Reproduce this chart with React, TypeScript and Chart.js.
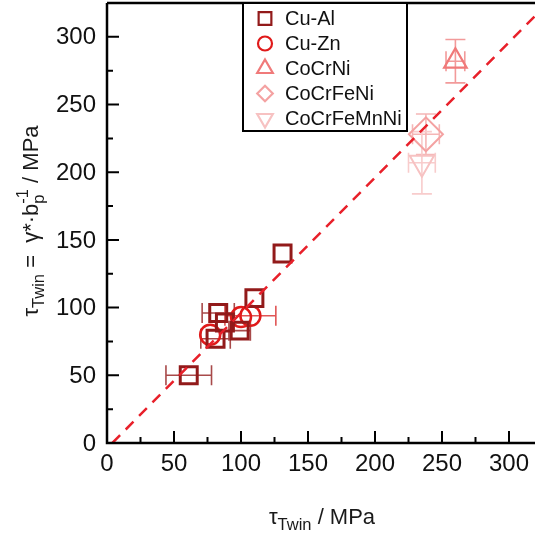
import React, { useEffect, useRef } from "react";
import { Chart, registerables } from "chart.js";

Chart.register(...registerables);

// ---- data ----
const seriesNames = ["Cu-Al", "Cu-Zn", "CoCrNi", "CoCrFeNi", "CoCrFeMnNi"];

const cuAlX = [61, 83, 88, 81, 99, 110, 131];
const cuAlY = [50, 96, 89, 77, 83, 107, 140];
const cuAlXErr = [17, 12, 0, 11, 8, 0, 0];
const cuAlYErr = [0, 0, 0, 0, 0, 0, 0];

const cuZnX = [77, 100, 107];
const cuZnY = [80, 93, 94];
const cuZnXErr = [0, 0, 19];
const cuZnYErr = [0, 0, 0];

const coCrNiX = [260];
const coCrNiY = [282];
const coCrNiXErr = [7];
const coCrNiYErr = [16];

const coCrFeNiX = [238];
const coCrFeNiY = [228];
const coCrFeNiXErr = [10];
const coCrFeNiYErr = [15];

const coCrFeMnNiX = [235];
const coCrFeMnNiY = [207];
const coCrFeMnNiXErr = [10];
const coCrFeMnNiYErr = [23];

const refLineX = [4, 335];
const refLineY = [0, 331];

const axisMin = 0;
const axisMax = 325;
const tickLabels = [0, 50, 100, 150, 200, 250, 300];

// ---- styles ----
const colors = ["#921a1a", "#e01a1a", "#f07a7a", "#f4a2a2", "#f7c2c2"];
const errColors = ["#a84a4a", "#e05555", "#f29a9a", "#f5b6b6", "#f8cccc"];
const styles = ["rect", "circle", "triangle", "rectRot", "triangle"];
const rotations = [0, 0, 0, 0, 180];
const radii = [12, 10, 13, 17, 14];
const widths = [3, 2.5, 2.2, 2, 2];

const FONT = "'Liberation Sans', Arial, sans-serif";

const toPts = (xs: number[], ys: number[]) => xs.map((x, i) => ({ x, y: ys[i] }));

const allSeries = [
  { x: cuAlX, y: cuAlY, xe: cuAlXErr, ye: cuAlYErr },
  { x: cuZnX, y: cuZnY, xe: cuZnXErr, ye: cuZnYErr },
  { x: coCrNiX, y: coCrNiY, xe: coCrNiXErr, ye: coCrNiYErr },
  { x: coCrFeNiX, y: coCrFeNiY, xe: coCrFeNiXErr, ye: coCrFeNiYErr },
  { x: coCrFeMnNiX, y: coCrFeMnNiY, xe: coCrFeMnNiXErr, ye: coCrFeMnNiYErr },
];

type Seg = { t: string; size: number; dy: number; stackWith?: Seg };

function richWidth(ctx: CanvasRenderingContext2D, segs: Seg[]) {
  let w = 0;
  for (const s of segs) {
    ctx.font = `${s.size}px ${FONT}`;
    let sw = ctx.measureText(s.t).width;
    if (s.stackWith) {
      ctx.font = `${s.stackWith.size}px ${FONT}`;
      sw = Math.max(sw, ctx.measureText(s.stackWith.t).width);
    }
    w += sw;
  }
  return w;
}

function drawRich(ctx: CanvasRenderingContext2D, segs: Seg[], cx: number, baseY: number) {
  const total = richWidth(ctx, segs);
  let x = cx - total / 2;
  ctx.textBaseline = "alphabetic";
  ctx.textAlign = "left";
  ctx.fillStyle = "#1a1a1a";
  for (const s of segs) {
    ctx.font = `${s.size}px ${FONT}`;
    let sw = ctx.measureText(s.t).width;
    ctx.fillText(s.t, x, baseY + s.dy);
    if (s.stackWith) {
      ctx.font = `${s.stackWith.size}px ${FONT}`;
      ctx.fillText(s.stackWith.t, x, baseY + s.stackWith.dy);
      sw = Math.max(sw, ctx.measureText(s.stackWith.t).width);
    }
    x += sw;
  }
}

function drawMarker(ctx: CanvasRenderingContext2D, style: string, rot: number, x: number, y: number, r: number) {
  ctx.beginPath();
  if (style === "rect") {
    const s = r * Math.SQRT1_2;
    ctx.rect(x - s, y - s, 2 * s, 2 * s);
  } else if (style === "circle") {
    ctx.arc(x, y, r, 0, Math.PI * 2);
  } else if (style === "rectRot") {
    const s = r * Math.SQRT1_2;
    ctx.moveTo(x - s, y);
    ctx.lineTo(x, y - s);
    ctx.lineTo(x + s, y);
    ctx.lineTo(x, y + s);
    ctx.closePath();
  } else {
    let a = (rot * Math.PI) / 180;
    ctx.moveTo(x + Math.sin(a) * r, y - Math.cos(a) * r);
    a += (2 * Math.PI) / 3;
    ctx.lineTo(x + Math.sin(a) * r, y - Math.cos(a) * r);
    a += (2 * Math.PI) / 3;
    ctx.lineTo(x + Math.sin(a) * r, y - Math.cos(a) * r);
    ctx.closePath();
  }
  ctx.stroke();
}

const framePlugin = {
  id: "frame",
  beforeDatasetsDraw(chart: any) {
    const ctx = chart.ctx as CanvasRenderingContext2D;
    const xs = chart.scales.x;
    const ys = chart.scales.y;
    const cap = 10;
    ctx.save();
    allSeries.forEach((s, si) => {
      ctx.strokeStyle = errColors[si];
      ctx.lineWidth = 1.6;
      s.x.forEach((xv, i) => {
        const px = xs.getPixelForValue(xv);
        const py = ys.getPixelForValue(s.y[i]);
        if (s.xe[i] > 0) {
          const l = xs.getPixelForValue(xv - s.xe[i]);
          const r = xs.getPixelForValue(xv + s.xe[i]);
          ctx.beginPath();
          ctx.moveTo(l, py);
          ctx.lineTo(r, py);
          ctx.moveTo(l, py - cap);
          ctx.lineTo(l, py + cap);
          ctx.moveTo(r, py - cap);
          ctx.lineTo(r, py + cap);
          ctx.stroke();
        }
        if (s.ye[i] > 0) {
          const t = ys.getPixelForValue(s.y[i] + s.ye[i]);
          const b = ys.getPixelForValue(s.y[i] - s.ye[i]);
          ctx.beginPath();
          ctx.moveTo(px, t);
          ctx.lineTo(px, b);
          ctx.moveTo(px - cap, t);
          ctx.lineTo(px + cap, t);
          ctx.moveTo(px - cap, b);
          ctx.lineTo(px + cap, b);
          ctx.stroke();
        }
      });
    });
    ctx.restore();
  },
  afterDraw(chart: any) {
    const ctx = chart.ctx as CanvasRenderingContext2D;
    const a = chart.chartArea;
    const xs = chart.scales.x;
    const ys = chart.scales.y;
    ctx.save();
    ctx.strokeStyle = "#000";
    ctx.lineWidth = 2.5;
    ctx.beginPath();
    ctx.moveTo(a.left, a.top);
    ctx.lineTo(a.right, a.top);
    ctx.moveTo(a.left, a.top);
    ctx.lineTo(a.left, a.bottom);
    ctx.lineTo(a.right, a.bottom);
    ctx.stroke();
    ctx.lineWidth = 2;
    ctx.beginPath();
    for (let v = 25; v <= axisMax; v += 25) {
      const len = v % 50 === 0 ? 12 : 6;
      const px = xs.getPixelForValue(v);
      ctx.moveTo(px, a.bottom);
      ctx.lineTo(px, a.bottom - len);
      const py = ys.getPixelForValue(v);
      ctx.moveTo(a.left, py);
      ctx.lineTo(a.left + len, py);
    }
    ctx.stroke();

    // tick labels
    ctx.fillStyle = "#111";
    ctx.font = `24px ${FONT}`;
    tickLabels.forEach((v) => {
      ctx.textAlign = "right";
      ctx.textBaseline = "middle";
      ctx.fillText(String(v), a.left - 11, ys.getPixelForValue(v) + 1);
      ctx.textAlign = "center";
      ctx.textBaseline = "top";
      ctx.fillText(String(v), xs.getPixelForValue(v), a.bottom + 9);
    });

    // legend box
    const lx = a.left + 136;
    const ly = a.top;
    const lw = 164;
    const lh = 128;
    ctx.fillStyle = "#fff";
    ctx.fillRect(lx, ly, lw, lh);
    ctx.strokeStyle = "#000";
    ctx.lineWidth = 2;
    ctx.strokeRect(lx, ly, lw, lh);
    const legR = [9, 7, 9, 11, 9];
    seriesNames.forEach((name, i) => {
      const cy = ly + 15.5 + i * 25;
      ctx.strokeStyle = colors[i];
      ctx.lineWidth = 2.2;
      drawMarker(ctx, styles[i], rotations[i], lx + 22, cy, legR[i]);
      ctx.fillStyle = "#111";
      ctx.font = `20px ${FONT}`;
      ctx.textAlign = "left";
      ctx.textBaseline = "middle";
      ctx.fillText(name, lx + 42, cy + 1);
    });

    // x title
    drawRich(
      ctx,
      [
        { t: "τ", size: 22, dy: 0 },
        { t: "Twin", size: 16.5, dy: 6 },
        { t: " / MPa", size: 22, dy: 0 },
      ],
      322,
      524
    );
    // y title
    ctx.save();
    ctx.translate(38, 221);
    ctx.rotate(-Math.PI / 2);
    drawRich(
      ctx,
      [
        { t: "τ", size: 22, dy: 0 },
        { t: "Twin", size: 16.5, dy: 6 },
        { t: " =  γ*·b", size: 22, dy: 0 },
        { t: "-1", size: 16.5, dy: -10, stackWith: { t: "p", size: 16.5, dy: 6 } as Seg },
        { t: " / MPa", size: 22, dy: 0 },
      ],
      0,
      0
    );
    ctx.restore();
    ctx.restore();
  },
};

export default function App() {
  const ref = useRef<HTMLCanvasElement | null>(null);
  useEffect(() => {
    if (!ref.current) return;
    const scatterSets = allSeries.map((s, i) => ({
      label: seriesNames[i],
      data: toPts(s.x, s.y),
      showLine: false,
      pointStyle: styles[i] as any,
      rotation: rotations[i],
      pointRadius: radii[i],
      pointHoverRadius: radii[i],
      pointBorderWidth: widths[i],
      borderColor: colors[i],
      backgroundColor: "rgba(0,0,0,0)",
      pointBackgroundColor: "rgba(0,0,0,0)",
      order: 1,
    }));
    const chart = new Chart(ref.current, {
      type: "scatter",
      data: {
        datasets: [
          {
            label: "ref",
            data: toPts(refLineX, refLineY),
            showLine: true,
            borderColor: "#e8202a",
            borderWidth: 2.5,
            borderDash: [11, 8],
            pointRadius: 0,
            order: 0,
          } as any,
          ...scatterSets,
        ],
      },
      options: {
        responsive: false,
        animation: false,
        devicePixelRatio: 1,
        layout: { autoPadding: false, padding: { left: 0, top: 3, right: 7.5, bottom: 0 } },
        plugins: { legend: { display: false }, tooltip: { enabled: false } },
        scales: {
          x: {
            type: "linear",
            min: axisMin,
            max: axisMax,
            grid: { display: false, drawTicks: false },
            border: { display: false },
            ticks: { display: false },
            afterFit: (s: any) => {
              s.height = 94;
            },
          },
          y: {
            type: "linear",
            min: axisMin,
            max: axisMax,
            grid: { display: false, drawTicks: false },
            border: { display: false },
            ticks: { display: false },
            afterFit: (s: any) => {
              s.width = 107;
            },
          },
        },
      },
      plugins: [framePlugin],
    });
    return () => chart.destroy();
  }, []);
  return (
    <div
      style={{
        position: "fixed",
        left: 0,
        top: 0,
        width: 535,
        height: 537,
        overflow: "hidden",
        background: "#fff",
      }}
    >
      <canvas ref={ref} width={550} height={537} style={{ display: "block" }} />
    </div>
  );
}
